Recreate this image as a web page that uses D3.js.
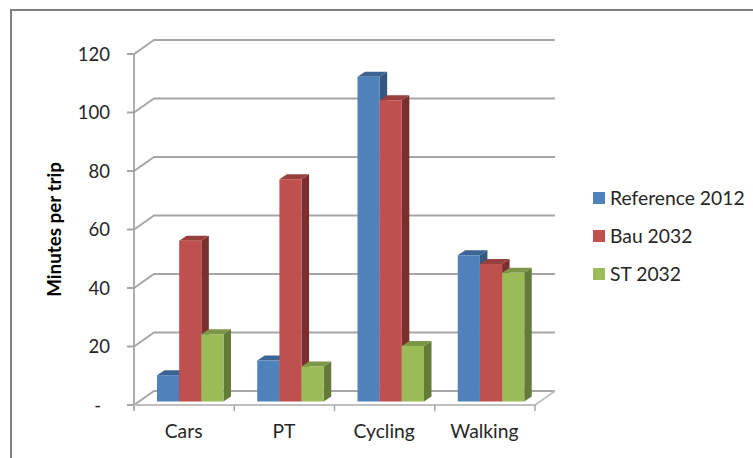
<!DOCTYPE html>
<html><head><meta charset="utf-8">
<script src="https://cdn.jsdelivr.net/npm/d3@7"></script>
<style>html,body{margin:0;padding:0;background:#fff}svg{display:block}text{font-family:Lato,sans-serif;fill:#262626}</style>
</head><body><svg id="c" width="753" height="458"></svg>
<script>
const categories = ["Cars","PT","Cycling","Walking"];
const seriesNames = ["Reference 2012","Bau 2032","ST 2032"];
const reference2012 = [9,14,111,50];
const bau2032 = [55,76,103,47];
const st2032 = [23,12,19,44];
const tickValues = [0,20,40,60,80,100,120];
const seriesValues = [reference2012,bau2032,st2032];
const colors = [
 {front:"#4f81bd",top:"#3d6594",side:"#35587f"},
 {front:"#c0504d",top:"#98403d",side:"#7b2f2d"},
 {front:"#9bbb59",top:"#7c9647",side:"#647a38"}];

const svg = d3.select("#c");
svg.append("path").attr("d","M11,458V10H753").attr("fill","none").attr("stroke","#7f7f7f").attr("stroke-width",2);

const y = d3.scaleLinear().domain([0,120]).range([405,54]);
const x = d3.scaleBand().domain(categories).range([134,535]);
const grp = d3.scaleBand().domain(d3.range(3)).range([23,23+66.5]);
const wall = {dx:20,dy:-14};
const depth = {dx:7.5,dy:-5};
const lift = -3.5;
const grid = "#a6a6a6";

const g = svg.append("g");
tickValues.forEach(v=>{
  g.append("path").attr("d",`M${x.range()[0]-7},${y(v)}H${x.range()[0]}L${x.range()[0]+wall.dx},${y(v)+wall.dy}H${x.range()[1]+wall.dx}`)
   .attr("fill","none").attr("stroke",grid).attr("stroke-width",1.8);
});
g.append("path").attr("d",`M${x.range()[0]},${y(120)}V${y(0)+6}`).attr("stroke",grid).attr("stroke-width",1.8).attr("fill","none");
g.append("path").attr("d",`M${x.range()[0]},${y(0)}H${x.range()[1]}L${x.range()[1]+wall.dx},${y(0)+wall.dy}`).attr("stroke","#bfbfbf").attr("stroke-width",1.8).attr("fill","none");
categories.forEach(c=>{
  const px = x(c)+x.bandwidth();
  g.append("line").attr("x1",px).attr("x2",px).attr("y1",y(0)).attr("y2",y(0)+6).attr("stroke",grid).attr("stroke-width",1.5);
});
categories.forEach((c,i)=>{
  seriesValues.forEach((vals,s)=>{
    const x0=x(c)+grp(s), w=grp.bandwidth(), top=y(vals[i])+lift, bot=y(0)+lift, col=colors[s];
    g.append("path").attr("fill",col.side).attr("d",`M${x0+w},${top}l${depth.dx},${depth.dy}V${bot+depth.dy}l${-depth.dx},${-depth.dy}Z`);
    g.append("path").attr("fill",col.top).attr("d",`M${x0},${top}l${depth.dx},${depth.dy}h${w}l${-depth.dx},${-depth.dy}Z`);
    g.append("rect").attr("x",x0).attr("y",top).attr("width",w).attr("height",bot-top).attr("fill",col.front);
  });
});
tickValues.forEach(v=>{
  svg.append("text").attr("x",v===0?101:110).attr("y",y(v)+6.5).attr("text-anchor","end").attr("font-size",18.5).text(v===0?"-":v);
});
categories.forEach(c=>{
  svg.append("text").attr("x",x(c)+x.bandwidth()/2-0.5).attr("y",438).attr("text-anchor","middle").attr("font-size",19.3).text(c);
});
svg.append("text").attr("transform","translate(61,229.5) rotate(-90)").attr("text-anchor","middle").attr("font-size",18.8).attr("font-weight","bold").style("fill","#000").text("Minutes per trip");
const legY = d3.scalePoint().domain(seriesNames).range([198,274]);
seriesNames.forEach((n,i)=>{
  svg.append("rect").attr("x",593).attr("y",legY(n)-6).attr("width",12).attr("height",12).attr("fill",colors[i].front);
  svg.append("text").attr("x",610).attr("y",legY(n)+6.5).attr("font-size",19.3).text(n);
});
</script></body></html>
